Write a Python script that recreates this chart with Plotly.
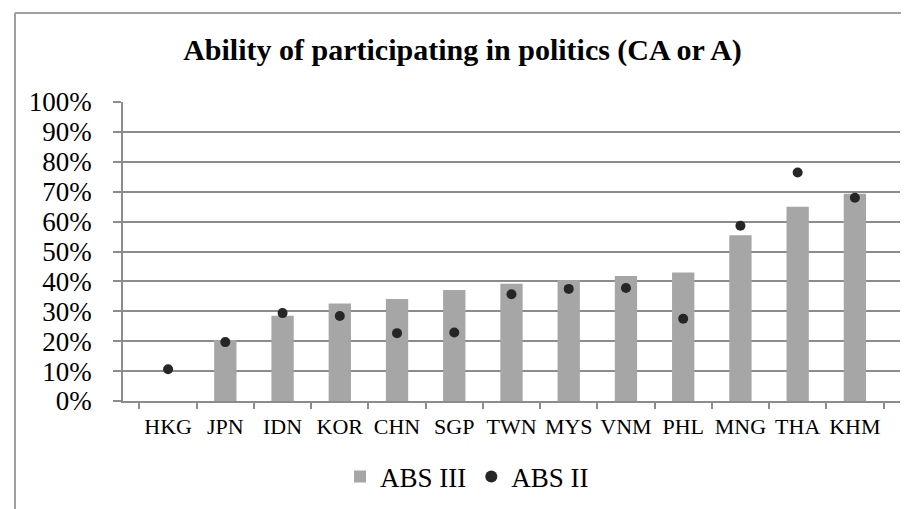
import plotly.graph_objects as go

categories = ["HKG", "JPN", "IDN", "KOR", "CHN", "SGP", "TWN", "MYS", "VNM", "PHL", "MNG", "THA", "KHM"]
abs3 = [None, 0.204, 0.285, 0.326, 0.341, 0.371, 0.392, 0.405, 0.418, 0.430, 0.554, 0.650, 0.693]
abs2 = [0.106, 0.197, 0.294, 0.284, 0.227, 0.229, 0.357, 0.375, 0.378, 0.275, 0.586, 0.764, 0.680]
y_ticks = [i / 10 for i in range(11)]

W, H = 909, 509
L, R, T, B = 115, 17, 94, 116
pw, ph = W - L - R, H - T - B

font = "Liberation Serif"
grid = "#8c8c8c"

fig = go.Figure()
fig.add_trace(go.Bar(x=categories, y=abs3, name="ABS III", marker_color="#a6a6a6",
                     marker_line_width=0))
fig.add_trace(go.Scatter(x=categories, y=abs2, name="ABS II", mode="markers",
                         marker=dict(color="#262626", size=10)))

def px2paper_x(px):
    return (px - L) / pw

def px2paper_y(py):
    return (H - B - py) / ph

# chart-area border (top and left edges visible)
fig.add_shape(type="line", xref="paper", yref="paper",
              x0=px2paper_x(7), x1=px2paper_x(W + 10), y0=px2paper_y(5), y1=px2paper_y(5),
              line=dict(color="#a0a0a0", width=2))
fig.add_shape(type="line", xref="paper", yref="paper",
              x0=px2paper_x(7), x1=px2paper_x(7), y0=px2paper_y(5), y1=px2paper_y(H + 10),
              line=dict(color="#a0a0a0", width=2))

fig.update_layout(
    width=W, height=H,
    margin=dict(l=L, r=R, t=T, b=B, autoexpand=False),
    paper_bgcolor="white", plot_bgcolor="white",
    font=dict(family=font, color="black"),
    title=dict(text="<b>Ability of participating in politics (CA or A)</b>",
               x=0.5, xref="container", y=1 - 41 / H, yref="container", yanchor="middle",
               xanchor="center", font=dict(size=30, family=font, color="black")),
    bargap=0.61,
    showlegend=True,
    legend=dict(orientation="h", xref="container", x=0.505, xanchor="center",
                yref="container", y=1 - 469 / H, yanchor="middle",
                font=dict(size=27, family=font, color="black"), itemsizing="constant"),
    xaxis=dict(type="category", showgrid=False, showline=True, linecolor=grid, linewidth=1.5,
               ticks="outside", tickson="boundaries", ticklen=6, tickcolor=grid, tickwidth=1.5,
               tickangle=0, automargin=False,
               tickfont=dict(size=22, family=font, color="black"), ticklabelstandoff=5),
    yaxis=dict(range=[0, 1], tickvals=y_ticks, tickformat=".0%", showgrid=True,
               gridcolor=grid, gridwidth=1.5, showline=True, linecolor=grid, linewidth=1.5,
               ticks="outside", ticklen=8, tickcolor=grid, tickwidth=1.5, automargin=False,
               tickfont=dict(size=27, family=font, color="black"), ticklabelstandoff=16,
               zeroline=False),
)

fig.write_html("out.html")
